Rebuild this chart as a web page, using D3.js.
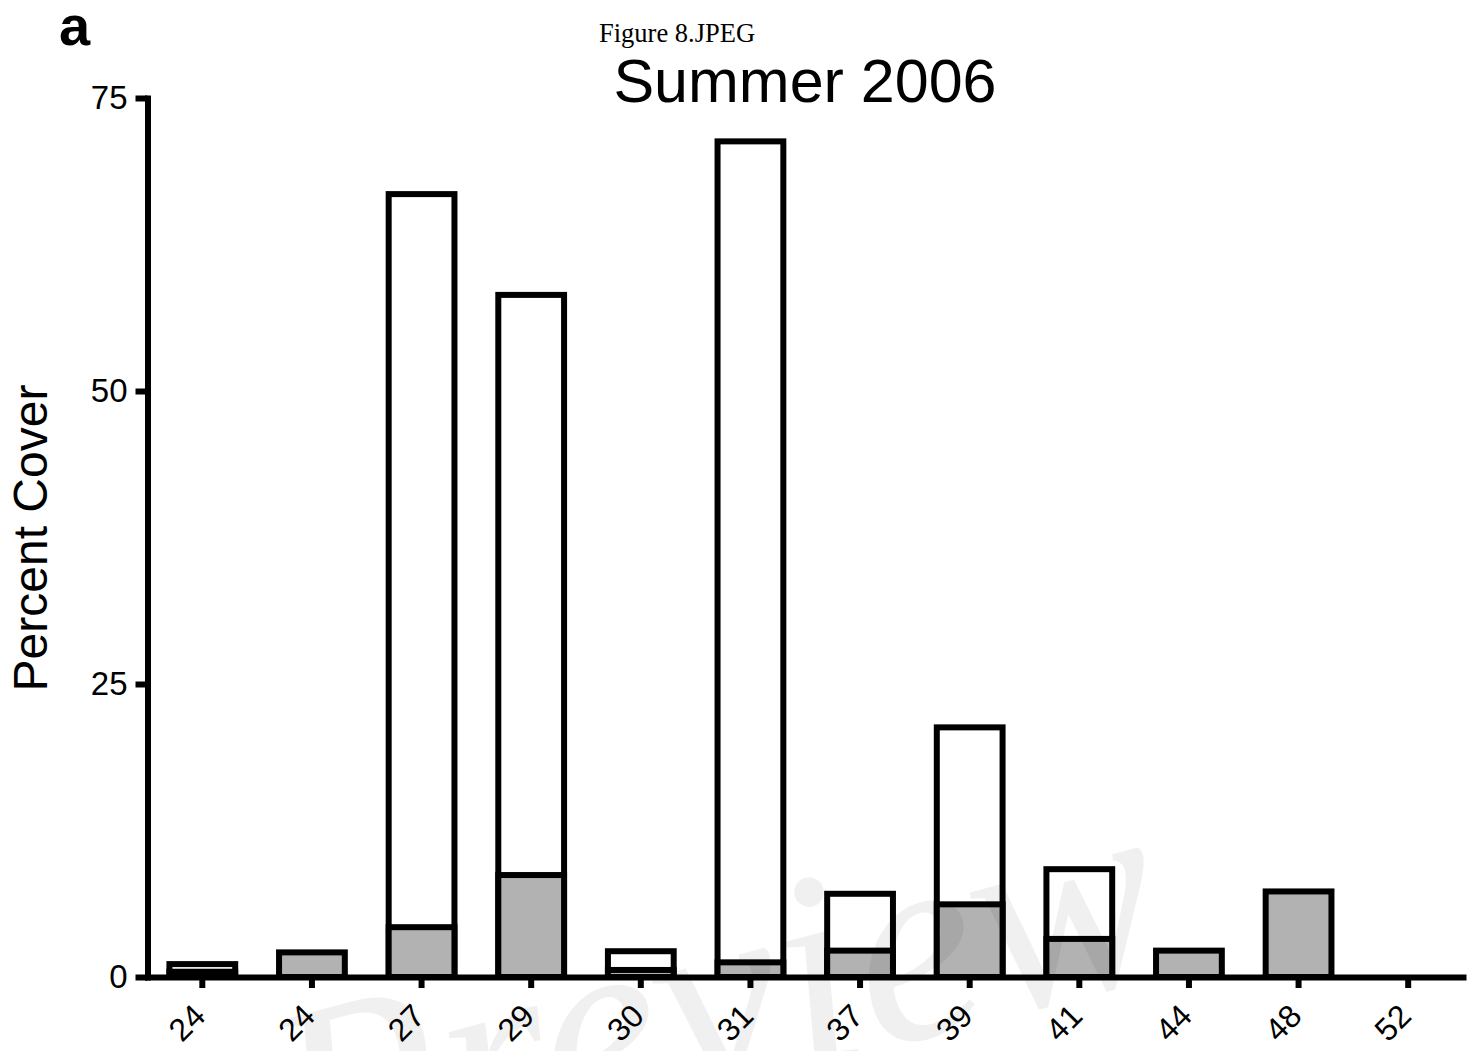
<!DOCTYPE html>
<html>
<head>
<meta charset="utf-8">
<script src="https://cdn.jsdelivr.net/npm/d3@7/dist/d3.min.js"></script>
<style>
  html, body { margin: 0; padding: 0; background: #fff; }
  svg { display: block; }
</style>
</head>
<body>
<svg id="chart" width="1477" height="1051"></svg>
<script>
// ---- data ----
const categories = ["24", "24", "27", "29", "30", "31", "37", "39", "41", "44", "48", "52"];
const totalCover = [1.1, 0, 66.8, 58.2, 2.2, 71.3, 7.1, 21.3, 9.2, 0, 0, 0];     // open (white) bars
const greyCover  = [0.45, 2.1, 4.25, 8.7, 0.6, 1.25, 2.25, 6.2, 3.25, 2.25, 7.3, 0]; // filled (grey) bars
const yTicks = [0, 25, 50, 75];
const titleText = "Summer 2006";
const yLabel = "Percent Cover";

const svg = d3.select("#chart");
const W = 1477, H = 1051;
svg.append("rect").attr("width", W).attr("height", H).attr("fill", "#fff");

const idx = d3.range(categories.length);
const x = d3.scaleBand().domain(idx).range([147.5, 1463]).paddingInner(0.4).paddingOuter(0.2);
const y = d3.scaleLinear().domain([0, 75]).range([977, 98]);

const bars = svg.append("g");
// open bars (behind)
bars.selectAll("rect.total")
  .data(idx.filter(i => totalCover[i] > 0))
  .join("rect")
  .attr("class", "total")
  .attr("x", i => x(i))
  .attr("width", x.bandwidth())
  .attr("y", i => y(totalCover[i]))
  .attr("height", i => y(0) - y(totalCover[i]))
  .attr("fill", "#fff")
  .attr("stroke", "#000")
  .attr("stroke-width", 6);
// grey bars (front)
bars.selectAll("rect.grey")
  .data(idx.filter(i => greyCover[i] > 0))
  .join("rect")
  .attr("class", "grey")
  .attr("x", i => x(i))
  .attr("width", x.bandwidth())
  .attr("y", i => y(greyCover[i]))
  .attr("height", i => y(0) - y(greyCover[i]))
  .attr("fill", "#b2b2b2")
  .attr("stroke", "#000")
  .attr("stroke-width", 6);

// y axis
const yAxis = svg.append("g")
  .attr("transform", "translate(147.5,0)")
  .call(d3.axisLeft(y).tickValues(yTicks).tickFormat(d3.format("d")).tickSize(12).tickSizeOuter(0).tickPadding(8));
yAxis.select(".domain").attr("stroke-width", 6).attr("stroke-linecap", "square");
yAxis.selectAll(".tick line").attr("stroke-width", 6);
yAxis.selectAll(".tick text")
  .attr("font-family", "Liberation Sans, Arial, sans-serif")
  .attr("font-size", 33)
  .attr("fill", "#000");

// x axis
const xAxis = svg.append("g")
  .attr("transform", "translate(0,977)")
  .call(d3.axisBottom(x).tickFormat(i => categories[i]).tickSize(11).tickSizeOuter(0));
xAxis.select(".domain").attr("stroke-width", 6).attr("stroke-linecap", "square");
xAxis.selectAll(".tick line").attr("stroke-width", 6);
xAxis.selectAll(".tick text")
  .attr("font-family", "Liberation Sans, Arial, sans-serif")
  .attr("font-size", 32)
  .attr("fill", "#000")
  .attr("text-anchor", "end")
  .attr("x", -25.5)
  .attr("y", 32.5)
  .attr("dy", 0)
  .attr("transform", "rotate(-45)");

// y label
svg.append("text")
  .attr("transform", "translate(47,538) rotate(-90)")
  .attr("text-anchor", "middle")
  .attr("font-family", "Liberation Sans, Arial, sans-serif")
  .attr("font-size", 48)
  .attr("fill", "#000")
  .text(yLabel);

// title
svg.append("text")
  .attr("x", 805).attr("y", 102)
  .attr("text-anchor", "middle")
  .attr("font-family", "Liberation Sans, Arial, sans-serif")
  .attr("font-size", 61)
  .attr("fill", "#000")
  .text(titleText);

// file caption
svg.append("text")
  .attr("x", 599).attr("y", 42)
  .attr("font-family", "Liberation Serif, Times New Roman, serif")
  .attr("font-size", 26.5)
  .attr("fill", "#000")
  .text("Figure 8.JPEG");

// panel letter
svg.append("text")
  .attr("x", 59).attr("y", 45)
  .attr("font-family", "Liberation Sans, Arial, sans-serif")
  .attr("font-weight", "bold")
  .attr("font-size", 56)
  .attr("fill", "#000")
  .text("a");

// watermark (faint, on top)
svg.append("text")
  .attr("transform", "translate(300,1205) rotate(-15)")
  .attr("font-family", "Liberation Serif, serif")
  .attr("font-style", "italic")
  .attr("font-size", 280)
  .attr("fill", "#000")
  .attr("fill-opacity", 0.06)
  .text("Preview");
</script>
</body>
</html>
